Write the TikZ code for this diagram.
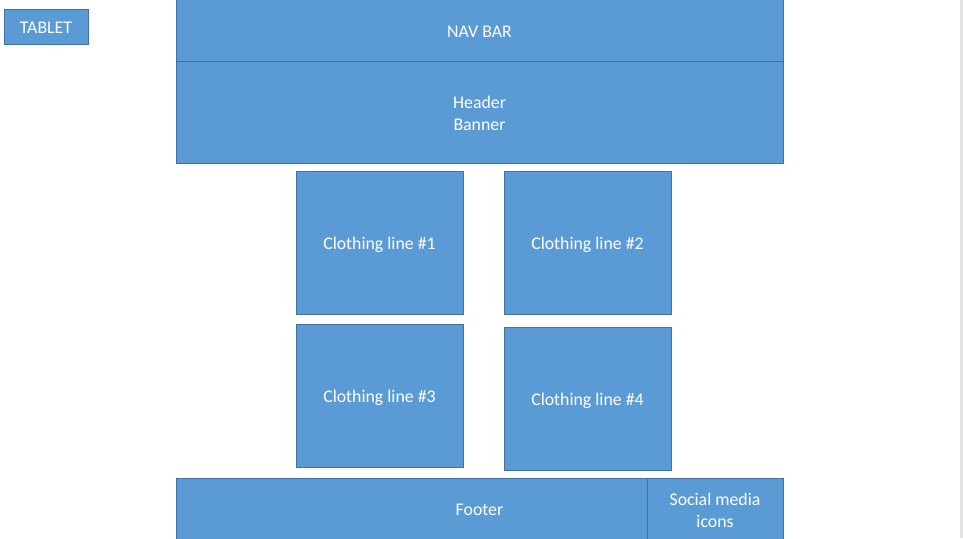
\documentclass[tikz,border=0pt]{standalone}
\usepackage{fontspec}
\setmainfont{Carlito}
\definecolor{boxfill}{HTML}{5B9BD5}
\definecolor{boxline}{HTML}{41719C}
\definecolor{strip}{HTML}{E3E3E3}
\begin{document}
\begin{tikzpicture}[x=1pt,y=-1pt,
  blk/.style={fill=boxfill,draw=boxline,line width=0.8pt,text=white,font=\fontsize{17.8}{22}\selectfont,align=center}]
\useasboundingbox (0,0) rectangle (963,538);
\clip (0,0) rectangle (963,538);
\fill[strip] (960,0) rectangle (963,538);
\draw[blk] (4,9) rectangle (88,44) node[midway,yshift=-1pt] (tablet) {TABLET};
\draw[blk] (176,-2) rectangle (783,61) node[midway,yshift=-2pt] (nav) {NAV BAR};
\draw[blk] (176,61) rectangle (783,163) node[midway,yshift=-1pt] (header) {Header\\Banner};
\draw[blk] (296,171) rectangle (463,314) node[midway,yshift=-2pt] (c1) {Clothing line \#1};
\draw[blk] (504,171) rectangle (671,314) node[midway,yshift=-2pt] (c2) {Clothing line \#2};
\draw[blk] (296,324) rectangle (463,467) node[midway,yshift=-2pt] (c3) {Clothing line \#3};
\draw[blk] (504,327) rectangle (671,470) node[midway,yshift=-2pt] (c4) {Clothing line \#4};
\draw[blk] (176,478) rectangle (783,542) node[pos=0.5,yshift=0pt] (footer) {Footer};
\draw[blk] (647,478) rectangle (783,542) node[pos=0.5,yshift=0pt] (social) {Social media\\icons};
\end{tikzpicture}
\end{document}
